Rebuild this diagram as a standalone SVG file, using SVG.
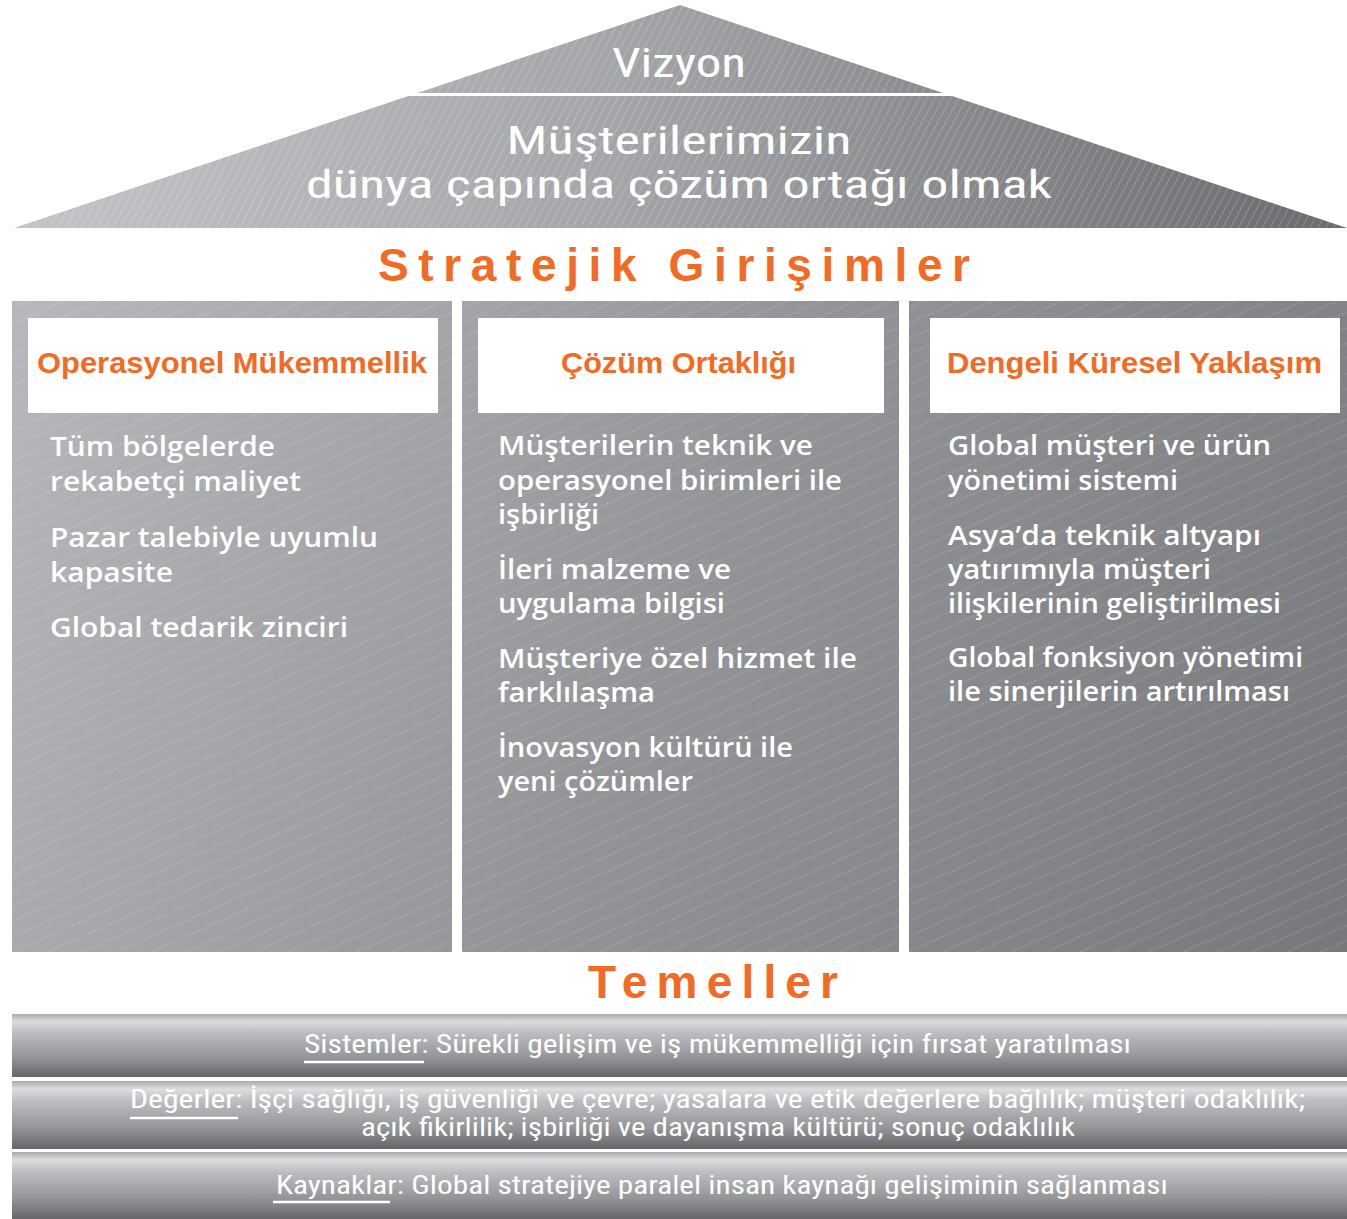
<svg xmlns="http://www.w3.org/2000/svg" width="1347" height="1219" viewBox="0 0 1347 1219">
<defs>
  <linearGradient id="roofGrad" gradientUnits="userSpaceOnUse" x1="14" y1="0" x2="1347" y2="0">
    <stop offset="0" stop-color="#c3c4c7"/>
    <stop offset="0.45" stop-color="#a4a5a8"/>
    <stop offset="1" stop-color="#6a6b6f"/>
  </linearGradient>
  <linearGradient id="colGrad" gradientUnits="userSpaceOnUse" x1="12" y1="301" x2="1347" y2="952">
    <stop offset="0" stop-color="#b6b8bb"/>
    <stop offset="0.5" stop-color="#939498"/>
    <stop offset="1" stop-color="#77787c"/>
  </linearGradient>
  <linearGradient id="barGrad" x1="0" y1="0" x2="0" y2="1">
    <stop offset="0" stop-color="#a9aaad"/>
    <stop offset="0.12" stop-color="#dcdddf"/>
    <stop offset="0.3" stop-color="#bcbdc0"/>
    <stop offset="0.7" stop-color="#939498"/>
    <stop offset="1" stop-color="#65666a"/>
  </linearGradient>
  <pattern id="colHatch" patternUnits="userSpaceOnUse" width="60" height="14" patternTransform="rotate(-24)">
    <line x1="0" y1="7" x2="60" y2="7" stroke="#ffffff" stroke-opacity="0.28" stroke-width="0.9" stroke-dasharray="2 1.5"/>
  </pattern>
  <pattern id="roofHatch" patternUnits="userSpaceOnUse" width="60" height="7" patternTransform="rotate(-62)">
    <line x1="0" y1="3.5" x2="60" y2="3.5" stroke="#ffffff" stroke-opacity="0.22" stroke-width="0.9"/>
  </pattern>
  <style>
    .roofTxt { font-family: "Liberation Sans Narrow", "Roboto Condensed", "DejaVu Sans Condensed", "Liberation Sans", sans-serif; fill: #ffffff; font-size: 40px; text-anchor: middle; }
    .roofSub { font-size: 38px; }
    .title { font-family: "Liberation Sans", "Arial", sans-serif; font-weight: bold; fill: #f26a24; font-size: 46px; }
    .head { font-family: "Liberation Sans", "Arial", sans-serif; font-weight: bold; fill: #f26a24; font-size: 30px; }
    .body { font-family: "Open Sans", "Liberation Sans", sans-serif; font-weight: 600; fill: #ffffff; font-size: 27px; }
    .bar { font-family: "Liberation Sans Narrow", "Roboto Condensed", "DejaVu Sans Condensed", "Liberation Sans", sans-serif; fill: #ffffff; font-size: 25px; }
    .ul { stroke: #ffffff; stroke-width: 2.5; }
  </style>
</defs>
<rect width="1347" height="1219" fill="#ffffff"/>

<g id="roof">
  <polygon points="680,5 1347,228 14,228" fill="url(#roofGrad)"/>
  <polygon points="680,5 1347,228 14,228" fill="url(#roofHatch)"/>
  <line x1="400" y1="94.5" x2="965" y2="94.5" stroke="#ffffff" stroke-width="3"/>
  <text class="roofTxt" x="679" y="77" textLength="134" lengthAdjust="spacingAndGlyphs">Vizyon</text>
  <text class="roofTxt roofSub" x="679" y="154" textLength="345" lengthAdjust="spacingAndGlyphs">Müşterilerimizin</text>
  <text class="roofTxt roofSub" x="679" y="198" textLength="746" lengthAdjust="spacingAndGlyphs">dünya çapında çözüm ortağı olmak</text>
</g>

<g id="strategic-title">
  <text class="title" x="378" y="281" textLength="592" lengthAdjust="spacing">Stratejik Girişimler</text>
</g>

<g id="column-1">
  <rect x="12" y="301" width="440" height="651" fill="url(#colGrad)"/>
  <rect x="12" y="301" width="440" height="651" fill="url(#colHatch)"/>
  <rect x="28" y="318" width="410" height="95" fill="#ffffff"/>
  <text class="head" x="37" y="373" textLength="390" lengthAdjust="spacingAndGlyphs">Operasyonel Mükemmellik</text>
  <text class="body" x="50" y="456" textLength="225" lengthAdjust="spacingAndGlyphs">Tüm bölgelerde</text>
  <text class="body" x="50" y="491" textLength="251" lengthAdjust="spacingAndGlyphs">rekabetçi maliyet</text>
  <text class="body" x="50" y="547" textLength="328" lengthAdjust="spacingAndGlyphs">Pazar talebiyle uyumlu</text>
  <text class="body" x="50" y="582" textLength="123" lengthAdjust="spacingAndGlyphs">kapasite</text>
  <text class="body" x="50" y="637" textLength="298" lengthAdjust="spacingAndGlyphs">Global tedarik zinciri</text>
</g>

<g id="column-2">
  <rect x="462" y="301" width="437" height="651" fill="url(#colGrad)"/>
  <rect x="462" y="301" width="437" height="651" fill="url(#colHatch)"/>
  <rect x="478" y="318" width="406" height="95" fill="#ffffff"/>
  <text class="head" x="561" y="373" textLength="235" lengthAdjust="spacingAndGlyphs">Çözüm Ortaklığı</text>
  <text class="body" x="498" y="455" textLength="315" lengthAdjust="spacingAndGlyphs">Müşterilerin teknik ve</text>
  <text class="body" x="498" y="490" textLength="344" lengthAdjust="spacingAndGlyphs">operasyonel birimleri ile</text>
  <text class="body" x="498" y="524" textLength="101" lengthAdjust="spacingAndGlyphs">işbirliği</text>
  <text class="body" x="498" y="579" textLength="233" lengthAdjust="spacingAndGlyphs">İleri malzeme ve</text>
  <text class="body" x="498" y="613" textLength="227" lengthAdjust="spacingAndGlyphs">uygulama bilgisi</text>
  <text class="body" x="498" y="668" textLength="359" lengthAdjust="spacingAndGlyphs">Müşteriye özel hizmet ile</text>
  <text class="body" x="498" y="702" textLength="157" lengthAdjust="spacingAndGlyphs">farklılaşma</text>
  <text class="body" x="498" y="757" textLength="295" lengthAdjust="spacingAndGlyphs">İnovasyon kültürü ile</text>
  <text class="body" x="498" y="791" textLength="195" lengthAdjust="spacingAndGlyphs">yeni çözümler</text>
</g>

<g id="column-3">
  <rect x="909" y="301" width="438" height="651" fill="url(#colGrad)"/>
  <rect x="909" y="301" width="438" height="651" fill="url(#colHatch)"/>
  <rect x="930" y="318" width="410" height="95" fill="#ffffff"/>
  <text class="head" x="947" y="373" textLength="375" lengthAdjust="spacingAndGlyphs">Dengeli Küresel Yaklaşım</text>
  <text class="body" x="948" y="455" textLength="323" lengthAdjust="spacingAndGlyphs">Global müşteri ve ürün</text>
  <text class="body" x="948" y="490" textLength="230" lengthAdjust="spacingAndGlyphs">yönetimi sistemi</text>
  <text class="body" x="948" y="545" textLength="313" lengthAdjust="spacingAndGlyphs">Asya’da teknik altyapı</text>
  <text class="body" x="948" y="579" textLength="263" lengthAdjust="spacingAndGlyphs">yatırımıyla müşteri</text>
  <text class="body" x="948" y="613" textLength="333" lengthAdjust="spacingAndGlyphs">ilişkilerinin geliştirilmesi</text>
  <text class="body" x="948" y="667" textLength="355" lengthAdjust="spacingAndGlyphs">Global fonksiyon yönetimi</text>
  <text class="body" x="948" y="701" textLength="342" lengthAdjust="spacingAndGlyphs">ile sinerjilerin artırılması</text>
</g>

<g id="foundations-title">
  <text class="title" x="588" y="998" textLength="250" lengthAdjust="spacing">Temeller</text>
</g>

<g id="bar-systems">
  <rect x="12" y="1014" width="1335" height="63" fill="url(#barGrad)"/>
  <text class="bar" x="304" y="1053" textLength="827" lengthAdjust="spacingAndGlyphs">Sistemler: Sürekli gelişim ve iş mükemmelliği için fırsat yaratılması</text>
  <line class="ul" x1="304" y1="1062" x2="424" y2="1062"/>
</g>

<g id="bar-values">
  <rect x="12" y="1081" width="1335" height="68" fill="url(#barGrad)"/>
  <text class="bar" x="130" y="1108" textLength="1175" lengthAdjust="spacingAndGlyphs">Değerler: İşçi sağlığı, iş güvenliği ve çevre; yasalara ve etik değerlere bağlılık; müşteri odaklılık;</text>
  <text class="bar" x="361" y="1136" textLength="714" lengthAdjust="spacingAndGlyphs">açık fikirlilik; işbirliği ve dayanışma kültürü; sonuç odaklılık</text>
  <line class="ul" x1="130" y1="1118" x2="238" y2="1118"/>
</g>

<g id="bar-resources">
  <rect x="12" y="1152" width="1335" height="67" fill="url(#barGrad)"/>
  <text class="bar" x="276" y="1194" textLength="892" lengthAdjust="spacingAndGlyphs">Kaynaklar: Global stratejiye paralel insan kaynağı gelişiminin sağlanması</text>
  <line class="ul" x1="273" y1="1202" x2="390" y2="1202"/>
</g>

<g id="connectors"/>
</svg>
